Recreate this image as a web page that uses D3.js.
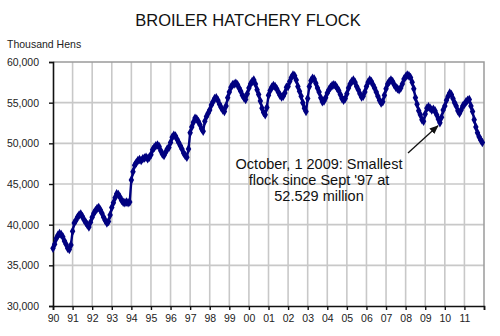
<!DOCTYPE html>
<html>
<head>
<meta charset="utf-8">
<script src="https://cdn.jsdelivr.net/npm/d3@7"></script>
<style>
  html, body { margin: 0; padding: 0; background: #fff; }
  svg { display: block; font-family: Arial, "Liberation Sans", sans-serif; }
</style>
</head>
<body>
<svg id="chart" width="500" height="336"></svg>
<script>
// Broiler hatchery flock, thousand hens, monthly Jan 1990 - Dec 2011
const years = d3.range(1990, 2012);
const yearLabels = ["90","91","92","93","94","95","96","97","98","99","00","01","02","03","04","05","06","07","08","09","10","11"];
const yTicks = [30000, 35000, 40000, 45000, 50000, 55000, 60000];

const flock1990 = [37100,37600,38300,38700,38900,38800,38500,38000,37600,37100,36950,37500];
const flock1991 = [39200,40200,40500,40900,41200,41300,41000,40600,40300,40000,39700,40300];
const flock1992 = [40900,41400,41700,42000,42100,41800,41400,40900,40500,40200,40400,41200];
const flock1993 = [42100,42700,43300,43800,43700,43400,43000,42750,42700,42800,42700,42800];
const flock1994 = [45500,46500,47300,47600,47900,48000,47900,48100,48200,48300,48100,48300];
const flock1995 = [48600,49200,49500,49700,49800,49600,49100,48700,48500,48900,49300,49500];
const flock1996 = [50100,50750,51000,50900,50500,50100,49700,49300,48800,48500,48300,49300];
const flock1997 = [51300,52000,52600,53100,53000,52700,52300,51800,51500,52700,53300,53700];
const flock1998 = [54100,54700,55100,55500,55600,55300,54800,54400,54100,53900,54600,55600];
const flock1999 = [56300,56900,57200,57300,57400,57200,56800,56400,55900,55600,55400,56100];
const flock2000 = [56800,57300,57600,57800,57300,56600,56000,55200,54300,53800,53500,54400];
const flock2001 = [55900,56500,56900,57100,57000,56700,56300,55900,55700,55800,56200,56900];
const flock2002 = [57000,57600,58100,58400,58300,57800,57000,56400,55800,55000,54300,53900];
const flock2003 = [55500,57000,57700,58000,57900,57400,56800,56300,55600,55100,55200,55600];
const flock2004 = [56200,56600,56900,57100,57200,57100,56800,56500,56000,55500,55300,55500];
const flock2005 = [56100,56800,57300,57600,57800,57500,57000,56600,56100,55700,55800,56300];
const flock2006 = [57000,57500,57800,57600,57200,56800,56300,55800,55300,54950,55100,55900];
const flock2007 = [56700,57300,57600,57800,57600,57200,56900,56700,56600,56800,57300,57900];
const flock2008 = [58200,58400,58300,58100,57500,56700,55600,54800,54000,53500,52900,52700];
const flock2009 = [53600,54300,54500,54300,54100,54200,54000,53500,53000,52529,53200,54100];
const flock2010 = [54600,55300,55800,56200,56000,55500,55000,54600,54000,53700,54100,54600];
const flock2011 = [54800,55100,55300,55400,54600,53900,52900,52000,51300,50800,50400,50100];

const byYear = [flock1990,flock1991,flock1992,flock1993,flock1994,flock1995,flock1996,flock1997,
  flock1998,flock1999,flock2000,flock2001,flock2002,flock2003,flock2004,flock2005,flock2006,
  flock2007,flock2008,flock2009,flock2010,flock2011];

const series = [];
byYear.forEach((vals, i) => vals.forEach((v, m) => series.push({t: years[i] + m / 12, v})));

const callout = {t: 2009 + 9 / 12, v: 52529,
  lines: ["October, 1 2009: Smallest", "flock since Sept '97 at", "52.529 million"]};

const svg = d3.select("#chart");
const margin = {left: 53, top: 62};

const x = d3.scaleLinear().domain([1990, 2012]).range([margin.left, 484]);
const y = d3.scaleLinear().domain([30000, 60000]).range([306, margin.top]);

// title and unit label
svg.append("text").attr("x", 248).attr("y", 26).attr("text-anchor", "middle")
  .attr("font-size", 16.5).attr("fill", "#111").text("BROILER HATCHERY FLOCK");
svg.append("text").attr("x", 7).attr("y", 48)
  .attr("font-size", 10.5).attr("fill", "#222").text("Thousand Hens");

// grid
const grid = svg.append("g");
grid.selectAll("line.v").data(d3.range(1991, 2012)).join("line")
  .attr("x1", d => x(d)).attr("x2", d => x(d))
  .attr("y1", y(30000)).attr("y2", y(60000))
  .attr("stroke", "#c8c8c8").attr("stroke-width", 1.6);
grid.selectAll("line.h").data(yTicks.slice(1, -1)).join("line")
  .attr("x1", x(1990)).attr("x2", x(2012))
  .attr("y1", d => y(d)).attr("y2", d => y(d))
  .attr("stroke", "#c8c8c8").attr("stroke-width", 1.6);
// plot frame top / right
svg.append("path")
  .attr("d", `M${x(1990)},${y(60000)}H${x(2012)}V${y(30000)}`)
  .attr("fill", "none").attr("stroke", "#9a9a9a").attr("stroke-width", 1.5);

// axes
const yAxis = d3.axisLeft(y).tickValues(yTicks).tickSize(4).tickPadding(10)
  .tickFormat(d3.format(","));
const gy = svg.append("g").attr("transform", `translate(${x(1990)},0)`).call(yAxis);
const xAxis = d3.axisBottom(x).tickValues(d3.range(1990, 2013)).tickSize(4).tickPadding(5)
  .tickFormat(d => d < 2012 ? yearLabels[d - 1990] : "");
const gx = svg.append("g").attr("transform", `translate(0,${y(30000)})`).call(xAxis);
[gx, gy].forEach(g => {
  g.select(".domain").attr("stroke", "#111").attr("stroke-width", 1.6);
  g.selectAll(".tick line").attr("stroke", "#111").attr("stroke-width", 1.4);
  g.selectAll(".tick text").attr("fill", "#222").attr("font-size", 10.5)
    .attr("font-family", "Arial, 'Liberation Sans', sans-serif");
});

// flock line with markers
const line = d3.line().x(d => x(d.t)).y(d => y(d.v));
svg.append("path").datum(series).attr("d", line)
  .attr("fill", "none").attr("stroke", "#000080").attr("stroke-width", 2.4)
  .attr("stroke-linejoin", "round");
const diamond = d3.symbol().type(d3.symbolDiamond).size(26);
svg.append("g").selectAll("path").data(series).join("path")
  .attr("transform", d => `translate(${x(d.t)},${y(d.v)})`)
  .attr("d", diamond).attr("fill", "#000080");

// callout
svg.append("defs").append("marker").attr("id", "arrow")
  .attr("viewBox", "0 0 10 10").attr("refX", 9).attr("refY", 5)
  .attr("markerWidth", 7).attr("markerHeight", 7).attr("orient", "auto")
  .append("path").attr("d", "M0,1L10,5L0,9z").attr("fill", "#111");
svg.append("line")
  .attr("x1", 408).attr("y1", 153)
  .attr("x2", x(callout.t) - 2).attr("y2", y(callout.v) + 3)
  .attr("stroke", "#111").attr("stroke-width", 1.3)
  .attr("marker-end", "url(#arrow)");
const ct = svg.append("text").attr("text-anchor", "middle")
  .attr("font-size", 14.5).attr("fill", "#111");
callout.lines.forEach((s, i) => {
  ct.append("tspan").attr("x", 319).attr("y", 169 + i * 16).text(s);
});
</script>
</body>
</html>
